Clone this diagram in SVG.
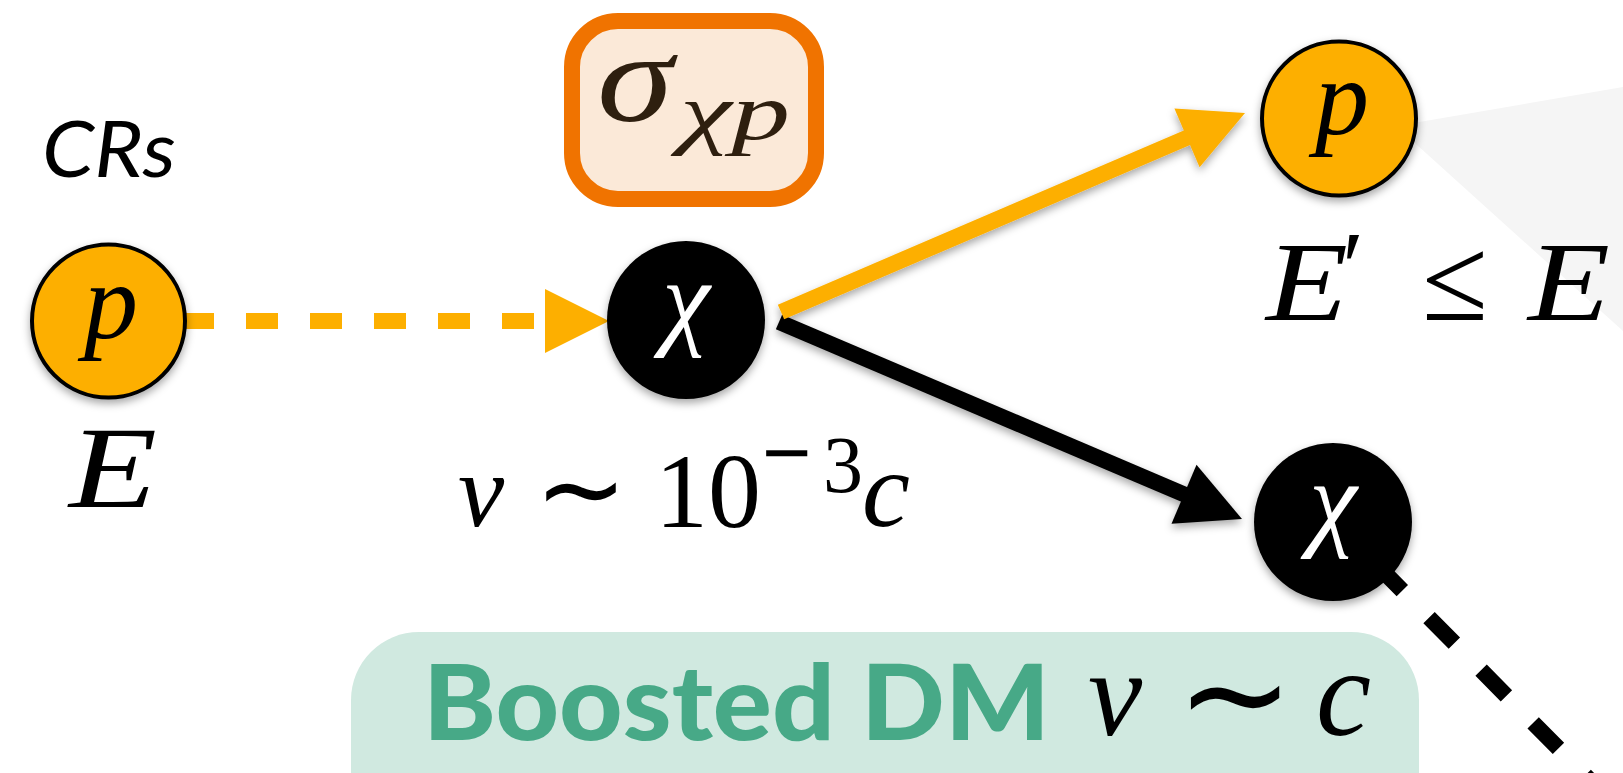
<svg xmlns="http://www.w3.org/2000/svg" width="1623" height="773" viewBox="0 0 1623 773">
  <style>
    .math { font-family: "Liberation Serif", "DejaVu Serif", serif; font-style: italic; }
    .rm { font-family: "Liberation Serif", "DejaVu Serif", serif; font-style: normal; }
    .sym { font-family: "DejaVu Sans", "DejaVu Serif", sans-serif; font-style: normal; }
    .porange { fill: #fdaf00; stroke: #000; stroke-width: 4; }
    .chi { fill: #000; }
    .orange-line { stroke: #fdaf00; stroke-width: 16; fill: none; }
    .black-line { stroke: #000; stroke-width: 16; fill: none; }
    .orange-head { fill: #fdaf00; }
    .black-head { fill: #000; }
  </style>
  <defs>
    <filter id="shadow" x="-20%" y="-20%" width="140%" height="150%">
      <feDropShadow dx="0" dy="4" stdDeviation="4" flood-color="#000" flood-opacity="0.35"/>
    </filter>
  </defs>
  <rect width="1623" height="773" fill="#fff"/>

  <!-- light gray wedge behind top-right proton -->
  <polygon id="wedge" points="1396,126 1623,87 1623,331" fill="#f5f5f5"/>

  <!-- labels -->
  <text id="crs" x="42" y="177" font-family="Lato, 'Open Sans', sans-serif" font-style="italic" font-size="77" textLength="134" lengthAdjust="spacingAndGlyphs" fill="#000">CRs</text>

  <!-- connectors -->
  <g id="connectors">
    <line class="orange-line" x1="182" y1="321" x2="536" y2="321" stroke-dasharray="32 32"/>
    <polygon class="orange-head" points="545,289 545,353 609,321"/>
    <line class="black-line" x1="1377" y1="565" x2="1660" y2="851" stroke-dasharray="36 38"/>
    <g filter="url(#shadow)">
      <line class="black-line" x1="779" y1="322" x2="1188" y2="496"/>
      <polygon class="black-head" points="1196.5,464.8 1242,519 1171.5,523.8"/>
      <line class="orange-line" x1="781" y1="312" x2="1191" y2="136"/>
      <polygon class="orange-head" points="1174.4,108.4 1245,113 1199.6,167.2"/>
    </g>
  </g>

  <!-- cross-section box -->
  <g id="sigma-box">
    <rect x="572" y="21" width="244" height="178" rx="46" ry="46" fill="#fbe9d8" stroke="#f07300" stroke-width="16"/>
    <text class="math" x="597" y="121" font-size="126" textLength="76" lengthAdjust="spacingAndGlyphs" fill="#2e1f0f">σ</text>
    <text class="math" x="680" y="139" font-size="80" textLength="110" lengthAdjust="spacingAndGlyphs" fill="#2e1f0f">χp</text>
  </g>

  <!-- nodes -->
  <g id="node-p-in" filter="url(#shadow)">
    <circle class="porange" cx="108.5" cy="321" r="76.5"/>
    <text class="math" x="111" y="338" font-size="108" text-anchor="middle" fill="#000">p</text>
  </g>
  <g id="label-E">
    <text class="math" x="69" y="507" font-size="116" textLength="88" lengthAdjust="spacingAndGlyphs" fill="#000">E</text>
  </g>

  <g id="node-chi-1" filter="url(#shadow)">
    <circle class="chi" cx="686" cy="320" r="79"/>
    <text class="math" x="686" y="335" font-size="108" text-anchor="middle" fill="#fff">χ</text>
  </g>
  <g id="label-v-slow">
    <text class="math" x="458" y="526" font-size="104">v</text>
    <text class="sym" x="581" y="527" font-size="111" text-anchor="middle">∼</text>
    <text class="rm" x="655" y="527" font-size="106" textLength="106" lengthAdjust="spacingAndGlyphs">10</text>
    <text class="sym" x="759" y="476" font-size="72" textLength="55" lengthAdjust="spacingAndGlyphs">−</text>
    <text class="rm" x="823" y="492" font-size="80">3</text>
    <text class="math" x="862" y="526" font-size="108">c</text>
  </g>

  <g id="node-p-out" filter="url(#shadow)">
    <circle class="porange" cx="1339" cy="118.5" r="77"/>
    <text class="math" x="1342" y="134" font-size="108" text-anchor="middle" fill="#000">p</text>
  </g>
  <g id="label-Eprime">
    <text class="math" x="1266" y="320" font-size="112" textLength="82" lengthAdjust="spacingAndGlyphs">E</text>
    <text class="math" x="1336" y="300" font-size="100">′</text>
    <text class="rm" x="1422" y="320" font-size="120">≤</text>
    <text class="math" x="1528" y="320" font-size="112" textLength="82" lengthAdjust="spacingAndGlyphs">E</text>
  </g>

  <g id="node-chi-2" filter="url(#shadow)">
    <circle class="chi" cx="1333" cy="522" r="79"/>
    <text class="math" x="1333" y="536" font-size="108" text-anchor="middle" fill="#fff">χ</text>
  </g>

  <!-- boosted DM box -->
  <g id="boosted-box">
    <rect x="351" y="632" width="1068" height="220" rx="68" ry="68" fill="#d0e9e0"/>
    <text x="423" y="740" font-family="Lato, 'Open Sans', sans-serif" font-weight="900" font-size="104" textLength="627" lengthAdjust="spacingAndGlyphs" fill="#47a987">Boosted DM</text>
    <text class="math" x="1088" y="735" font-size="122">v</text>
    <text class="sym" x="1235" y="742" font-size="141" text-anchor="middle">∼</text>
    <text class="math" x="1316" y="735" font-size="124">c</text>
  </g>
</svg>
